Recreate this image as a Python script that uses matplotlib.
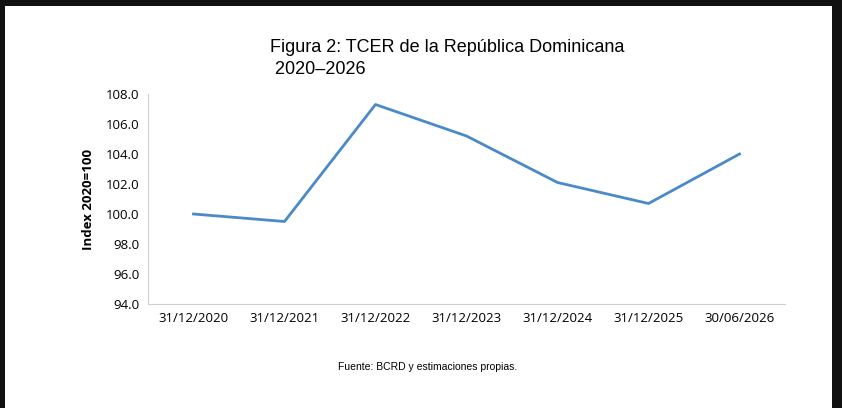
import matplotlib
matplotlib.use("Agg")
import matplotlib.pyplot as plt
from matplotlib.patches import Rectangle

dates = ["31/12/2020", "31/12/2021", "31/12/2022", "31/12/2023", "31/12/2024", "31/12/2025", "30/06/2026"]
values = [100.0, 99.5, 107.3, 105.2, 102.1, 100.7, 104.0]
yticks = [94.0, 96.0, 98.0, 100.0, 102.0, 104.0, 106.0, 108.0]

W, H = 842, 408
fig = plt.figure(figsize=(W/100, H/100), dpi=100, facecolor="#111111")
fig.patches.append(Rectangle((5/W, 0), (832-5)/W, (H-6)/H, transform=fig.transFigure,
                             facecolor="white", edgecolor="none", zorder=-10))
ax = fig.add_axes([148/W, 1-304/H, (785-148)/W, (304-94)/H])
ax.set_zorder(5)
ax.set_facecolor("none")
x = list(range(len(dates)))
ax.plot(x, values, color="#4a8ac9", lw=2)
ax.set_xlim(-0.5, len(dates)-0.5)
ax.set_ylim(94, 108)
ax.set_yticks(yticks)
ax.set_yticklabels([f"{v:.1f}" for v in yticks], family="Open Sans", fontsize=9.5)
ax.set_xticks(x)
ax.set_xticklabels(dates, family="Open Sans", fontsize=9.5)
ax.tick_params(length=0, pad=6)
for s in ["top", "right"]:
    ax.spines[s].set_visible(False)
for s in ["left", "bottom"]:
    ax.spines[s].set_color("#d0d0d0")
ax.set_ylabel("Index 2020=100", family="Open Sans", fontsize=9.5, fontweight="bold", labelpad=8)
fig.text(270/W, 1-47/H, "Figura 2: TCER de la República Dominicana", family="Liberation Sans",
         fontsize=13, va="center", ha="left")
fig.text(270/W, 1-70/H, " 2020–2026", family="Liberation Sans",
         fontsize=13, va="center", ha="left")
fig.text(428/W, 1-367/H, "Fuente: BCRD y estimaciones propias.", family="Liberation Sans",
         fontsize=7.5, ha="center", va="center")
fig.savefig("out.png", dpi=100, facecolor=fig.get_facecolor())
